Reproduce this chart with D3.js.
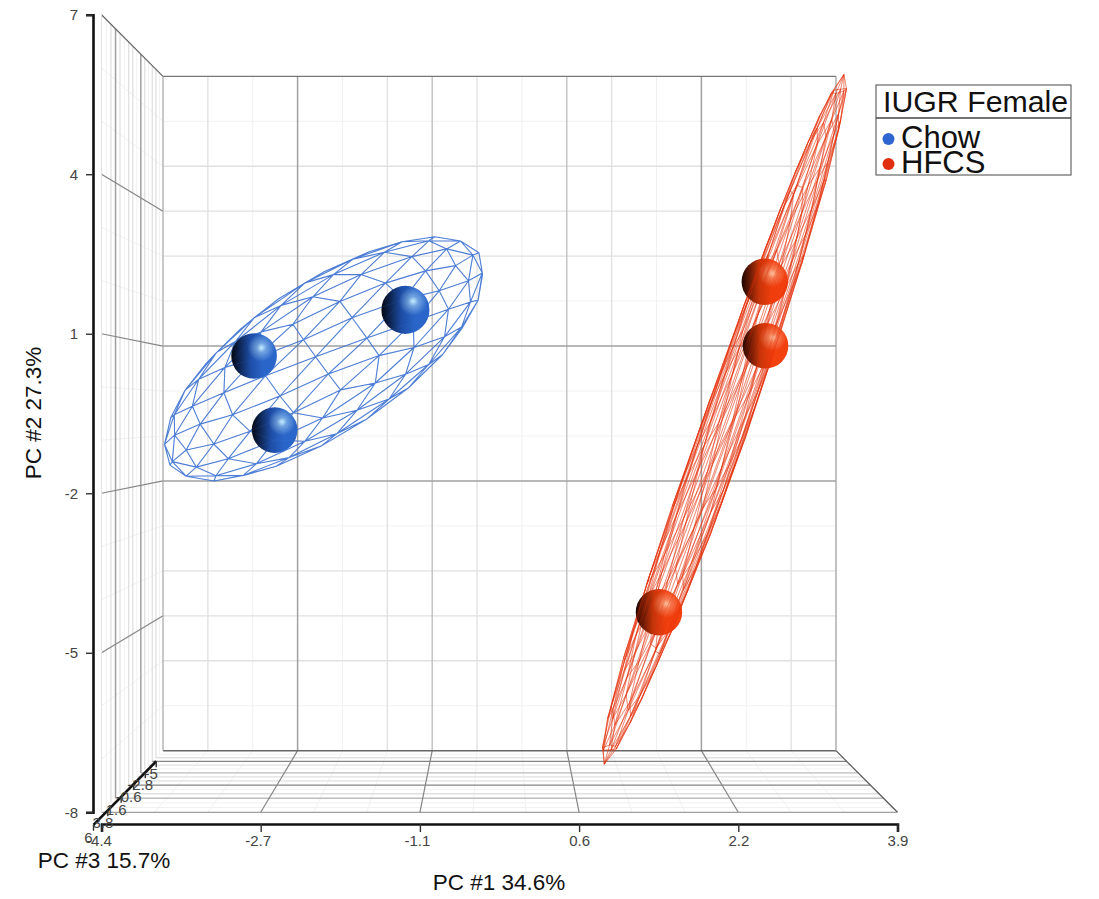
<!DOCTYPE html>
<html>
<head>
<meta charset="utf-8">
<script src="https://cdnjs.cloudflare.com/ajax/libs/d3/7.8.5/d3.min.js"></script>
<style>
  body { margin: 0; background: #fff; }
  svg { display: block; font-family: "Liberation Sans", Arial, sans-serif; }
</style>
</head>
<body>
<div id="chart"></div>
<script>
"use strict";

const xTicks = [-4.4, -2.7, -1.1, 0.6, 2.2, 3.9];
const yTicks = [-8, -5, -2, 1, 4, 7];
const zTicks = [-5, -2.8, -0.6, 1.6, 3.8, 6];

const groups = ["Chow", "HFCS"];
const groupColors = ["#2f65d0", "#e03010"];

// samples, PC1 / PC2 / PC3
const chowPoints = [[-1.28, 1.52, 3.8], [-3.01, 0.68, 0.5], [-2.77, -0.84, 0.5]];
const hfcsPoints = [[2.69, 2.16, 1.6], [2.75, 0.89, 0.5], [1.52, -4.51, 1.6]];

// confidence ellipsoids: centre and the three semi axes
const chowCentre = [-2.24, 0.62, 0.5];
const chowAxes = [[1.75, 2.18, 0], [-0.48, 1.24, 0], [0, 0, 2.5]];
const hfcsCentre = [2.285, -0.62, 1.05];
const hfcsAxes = [[1.36, 7.02, 0], [0.24, -0.15, 0], [0, 0, 1.5]];

const width = 1099;
const height = 899;

// perspective box: back wall 673 wide, front face 796 wide
const centreX = 499.5;
const centreY = 413.5;
const backW = 673;
const frontW = 796;

const xNorm = d3.scaleLinear().domain(xTicks).range(xTicks.map((d, i) => -1 + i * 0.4));
const yNorm = d3.scaleLinear().domain([-8, 7]).range([1, -1]);
const zDepth = d3.scaleLinear().domain([-5, 6]).range([0, 1]);

function boxWidth(z) {
  const t = zDepth(z);
  return 1 / ((1 - t) / backW + t / frontW);
}

function project(p) {
  const w = boxWidth(p[2]);
  return [centreX + (xNorm(p[0]) * w) / 2, centreY + (yNorm(p[1]) * w * 1.002) / 2];
}

const svg = d3
  .select("#chart")
  .append("svg")
  .attr("width", width)
  .attr("height", height);

const defs = svg.append("defs");

const xMin = xTicks[0], xMax = xTicks[5];
const yMin = yTicks[0], yMax = yTicks[5];
const zBack = zTicks[0], zFront = zTicks[5];

// values of the fine grid, 3 steps between two ticks
function fineGrid(ticks) {
  const out = [];
  ticks.slice(1).forEach((d, i) => {
    const a = ticks[i];
    [0, 1, 2].forEach((k) => out.push(a + ((d - a) * k) / 3));
  });
  out.push(ticks[ticks.length - 1]);
  return out;
}

const xFine = fineGrid(xTicks);
const yFine = fineGrid(yTicks);
const zFine = fineGrid(zTicks);

// line weight per fine grid line: f faint, m medium, s strong, d dark, - none (box edge)
const gridStyle = {
  f: ["#f1f1f1", 1],
  m: ["#e0e0e0", 1.3],
  s: ["#bcbcbc", 1.3],
  d: ["#a0a0a0", 1.5],
  k: ["#858585", 1.2],
};

const gridLayer = svg.append("g").attr("fill", "none");

function gridLine(a, b, color, w) {
  const p = project(a);
  const q = project(b);
  gridLayer
    .append("line")
    .attr("x1", p[0])
    .attr("y1", p[1])
    .attr("x2", q[0])
    .attr("y2", q[1])
    .attr("stroke", color)
    .attr("stroke-width", w || 1);
}

function gridSet(values, weights, ends) {
  values.forEach((v, i) => {
    const s = gridStyle[weights[i]];
    if (s) gridLine(ends(v)[0], ends(v)[1], s[0], s[1]);
  });
}

// faint ones first so the darker lines stay on top
["f", "m", "s", "d", "k"].forEach((level) => {
  const only = (w) => w.split("").map((c) => (c === level ? c : "-"));
  // back wall
  gridSet(xFine, only("-mfdfmsmfsmfdfm-"), (v) => [[v, yMin, zBack], [v, yMax, zBack]]);
  gridSet(yFine, only("-fmmmfdffdfmmmf-"), (v) => [[xMin, v, zBack], [xMax, v, zBack]]);
  // left wall
  gridSet(zFine, only("-fmmfmdfmmfmdmf-"), (v) => [[xMin, yMin, v], [xMin, yMax, v]]);
  gridSet(yFine, only("-ffkffkffkffkff-"), (v) => [[xMin, v, zBack], [xMin, v, zFront]]);
  // floor
  gridSet(xFine, only("-ffkffkffkffkff-"), (v) => [[v, yMin, zBack], [v, yMin, zFront]]);
  gridSet(zFine, only("-fmkmfsmmkfmsff-"), (v) => [[xMin, yMin, v], [xMax, yMin, v]]);
});

// box edges
gridLine([xMin, yMax, zBack], [xMax, yMax, zBack], "#777", 1.2);
gridLine([xMin, yMin, zBack], [xMax, yMin, zBack], "#666", 1.5);
gridLine([xMin, yMax, zBack], [xMin, yMax, zFront], "#666", 1.2);
gridLine([xMax, yMin, zBack], [xMax, yMin, zFront], "#555", 1.2);
gridLine([xMax, yMin, zBack], [xMax, yMax, zBack], "#999", 1.2);
gridLine([xMin, yMin, zBack], [xMin, yMax, zBack], "#a5a5a5", 1.2);
gridLine([xMin, yMin, zFront], [xMax, yMin, zFront], "#888");
gridLine([xMin, yMin, zFront], [xMin, yMax, zFront], "#e4e4e4");

// axes
const yFront = d3
  .scaleLinear()
  .domain([yMin, yMax])
  .range([project([xMin, yMin, zFront])[1], project([xMin, yMax, zFront])[1]]);

const xFront = d3
  .scaleLinear()
  .domain(xTicks)
  .range(xTicks.map((d) => project([d, yMin, zFront])[0]));

function styleAxis(g) {
  g.select(".domain").attr("stroke", "#111").attr("stroke-width", 2.6);
  g.selectAll(".tick line").attr("stroke", "#333").attr("stroke-width", 1.4);
  g.selectAll(".tick text")
    .attr("fill", "#444")
    .style("font-family", '"Liberation Sans", Arial, sans-serif')
    .style("font-size", "15px");
}

svg
  .append("g")
  .attr("transform", "translate(93,0)")
  .call(d3.axisLeft(yFront).tickValues(yTicks).tickSizeOuter(0).tickSize(7).tickPadding(8).tickFormat((d) => String(d)))
  .call(styleAxis);

svg
  .append("g")
  .attr("transform", "translate(0,824)")
  .call(d3.axisBottom(xFront).tickValues(xTicks).tickSizeOuter(0).tickSize(8).tickPadding(3).tickFormat((d) => String(d)))
  .call(styleAxis)
  .selectAll(".tick text")
  .attr("dx", (d) => (d < 0 ? -3 : 0));

// depth axis sits just below the floor, offset shrinks with perspective
function zAxisPoint(z) {
  const p = project([xMin, yMin, z]);
  const k = boxWidth(z) / frontW;
  return [p[0] - 8 * k, p[1] + 12.5 * k];
}

const zAxis = svg.append("g");
const zEnds = [zAxisPoint(zBack), zAxisPoint(zFront)];
zAxis
  .append("path")
  .attr("d", d3.line()(zEnds))
  .attr("stroke", "#111")
  .attr("stroke-width", 2.6)
  .attr("fill", "none");

zAxis
  .selectAll("line")
  .data(zTicks)
  .join("line")
  .attr("x1", (d) => zAxisPoint(d)[0])
  .attr("y1", (d) => zAxisPoint(d)[1])
  .attr("x2", (d) => zAxisPoint(d)[0])
  .attr("y2", (d) => zAxisPoint(d)[1] + 6)
  .attr("stroke", "#333")
  .attr("stroke-width", 1.4);

zAxis
  .selectAll("text")
  .data(zTicks)
  .join("text")
  .attr("x", (d) => zAxisPoint(d)[0] - 5)
  .attr("y", (d) => zAxisPoint(d)[1] + 18)
  .attr("text-anchor", "middle")
  .attr("fill", "#444")
  .style("font-size", "15px")
  .text((d) => String(d));

// icosphere, the triangle pattern of the wire mesh
function icosphere(levels) {
  const f = (1 + Math.sqrt(5)) / 2;
  let verts = [
    [-1, f, 0], [1, f, 0], [-1, -f, 0], [1, -f, 0],
    [0, -1, f], [0, 1, f], [0, -1, -f], [0, 1, -f],
    [f, 0, -1], [f, 0, 1], [-f, 0, -1], [-f, 0, 1],
  ].map(unit);
  let faces = [
    [0, 11, 5], [0, 5, 1], [0, 1, 7], [0, 7, 10], [0, 10, 11],
    [1, 5, 9], [5, 11, 4], [11, 10, 2], [10, 7, 6], [7, 1, 8],
    [3, 9, 4], [3, 4, 2], [3, 2, 6], [3, 6, 8], [3, 8, 9],
    [4, 9, 5], [2, 4, 11], [6, 2, 10], [8, 6, 7], [9, 8, 1],
  ];
  function unit(v) {
    const n = Math.hypot(v[0], v[1], v[2]);
    return [v[0] / n, v[1] / n, v[2] / n];
  }
  for (let l = 0; l < levels; l++) {
    const cache = new Map();
    const mid = (a, b) => {
      const key = a < b ? a + "_" + b : b + "_" + a;
      if (!cache.has(key)) {
        const v = unit(verts[a].map((c, i) => (c + verts[b][i]) / 2));
        verts.push(v);
        cache.set(key, verts.length - 1);
      }
      return cache.get(key);
    };
    const next = [];
    faces.forEach(([a, b, c]) => {
      const ab = mid(a, b), bc = mid(b, c), ca = mid(c, a);
      next.push([a, ab, ca], [b, bc, ab], [c, ca, bc], [ab, bc, ca]);
    });
    faces = next;
  }
  return { verts, faces };
}

function meshPath(centre, axes, levels, frontOnly, spin) {
  const mesh = icosphere(levels);
  const c1 = Math.cos(spin), s1 = Math.sin(spin);
  const pts3 = mesh.verts.map((u) => {
    const v = [c1 * u[0] + s1 * u[2], u[1], -s1 * u[0] + c1 * u[2]];
    return centre.map((c, i) => c + axes[0][i] * v[2] + axes[1][i] * v[0] + axes[2][i] * v[1]);
  });
  const pts = pts3.map(project);
  const area = (f) => {
    const [a, b, c] = f.map((i) => pts[i]);
    return (b[0] - a[0]) * (c[1] - a[1]) - (b[1] - a[1]) * (c[0] - a[0]);
  };
  const nearest = d3.greatest(mesh.faces, (f) => d3.sum(f, (i) => pts3[i][2]));
  const sign = Math.sign(area(nearest));

  const seen = new Set();
  let d = "";
  mesh.faces.forEach((f) => {
    if (frontOnly && area(f) * sign < 0) return;
    [[f[0], f[1]], [f[1], f[2]], [f[2], f[0]]].forEach(([a, b]) => {
      const key = a < b ? a + "_" + b : b + "_" + a;
      if (seen.has(key)) return;
      seen.add(key);
      d += "M" + pts[a][0].toFixed(1) + "," + pts[a][1].toFixed(1) + "L" + pts[b][0].toFixed(1) + "," + pts[b][1].toFixed(1);
    });
  });
  return d;
}

function addSphereGradients(id, stops, glow) {
  const base = defs.append("linearGradient").attr("id", id + "-base");
  stops.forEach((s) => base.append("stop").attr("offset", s[0]).attr("stop-color", s[1]));
  const light = defs
    .append("radialGradient")
    .attr("id", id + "-light")
    .attr("cx", 0.66)
    .attr("cy", 0.32)
    .attr("r", 0.3);
  light.append("stop").attr("offset", 0).attr("stop-color", glow).attr("stop-opacity", 1);
  light.append("stop").attr("offset", 0.35).attr("stop-color", glow).attr("stop-opacity", 0.45);
  light.append("stop").attr("offset", 1).attr("stop-color", glow).attr("stop-opacity", 0);
}

addSphereGradients(
  "chow",
  [[0, "#03060f"], [0.18, "#0e2450"], [0.42, "#1d4da6"], [0.7, "#2a66c9"], [1, "#2a66c9"]],
  "#c6eeff"
);
addSphereGradients(
  "hfcs",
  [[0, "#1c0500"], [0.15, "#5a1604"], [0.38, "#c4360a"], [0.65, "#f2400f"], [1, "#f2400f"]],
  "#ffc8a8"
);

function drawSpheres(points, id) {
  const layer = svg.append("g");
  ["base", "light"].forEach((part) => {
    layer
      .append("g")
      .selectAll("circle")
      .data(points)
      .join("circle")
      .attr("cx", (d) => project(d)[0])
      .attr("cy", (d) => project(d)[1])
      .attr("r", (d) => 0.0313 * boxWidth(d[2]))
      .attr("fill", `url(#${id}-${part})`);
  });
}

function drawWire(path, color, w, opacity) {
  svg
    .append("path")
    .attr("d", path)
    .attr("fill", "none")
    .attr("stroke", color)
    .attr("stroke-width", w)
    .attr("stroke-opacity", opacity)
    .attr("stroke-linejoin", "round");
}

const chowWire = meshPath(chowCentre, chowAxes, 2, true, 0);
const hfcsWire = meshPath(hfcsCentre, hfcsAxes, 2, false, 0.5);

drawWire(chowWire, "#3f74d2", 1.1, 0.9);
drawSpheres(chowPoints, "chow");
drawWire(chowWire, "#3f74d2", 0.8, 0.18);

drawWire(hfcsWire, "#e5330c", 0.6, 0.8);
drawSpheres(hfcsPoints, "hfcs");
drawWire(hfcsWire, "#e5330c", 0.6, 0.3);

// axis titles
svg
  .append("text")
  .attr("x", 499)
  .attr("y", 890)
  .attr("text-anchor", "middle")
  .attr("fill", "#111")
  .style("font-size", "22.5px")
  .text("PC #1 34.6%");

svg
  .append("text")
  .attr("transform", "translate(41,413) rotate(-90)")
  .attr("text-anchor", "middle")
  .attr("fill", "#111")
  .style("font-size", "22.5px")
  .text("PC #2 27.3%");

svg
  .append("text")
  .attr("x", 104)
  .attr("y", 868)
  .attr("text-anchor", "middle")
  .attr("fill", "#111")
  .style("font-size", "22.5px")
  .text("PC #3 15.7%");

// legend
const legend = svg.append("g").attr("transform", "translate(876,85)");

legend
  .append("rect")
  .attr("width", 195)
  .attr("height", 90)
  .attr("fill", "#fff")
  .attr("stroke", "#666")
  .attr("stroke-width", 1.2);

legend
  .append("line")
  .attr("x2", 195)
  .attr("y1", 33)
  .attr("y2", 33)
  .attr("stroke", "#444")
  .attr("stroke-width", 1.4);

legend
  .append("text")
  .attr("x", 7)
  .attr("y", 27)
  .attr("fill", "#111")
  .style("font-size", "30.3px")
  .text("IUGR Female");

const legendRow = legend
  .selectAll(".row")
  .data(groups)
  .join("g")
  .attr("class", "row")
  .attr("transform", (d, i) => `translate(0,${54 + i * 25})`);

legendRow
  .append("circle")
  .attr("cx", 12.5)
  .attr("r", 6)
  .attr("fill", (d, i) => groupColors[i]);

legendRow
  .append("text")
  .attr("x", 25)
  .attr("y", 8.5)
  .attr("fill", "#111")
  .style("font-size", "31px")
  .text((d) => d);
</script>
</body>
</html>
